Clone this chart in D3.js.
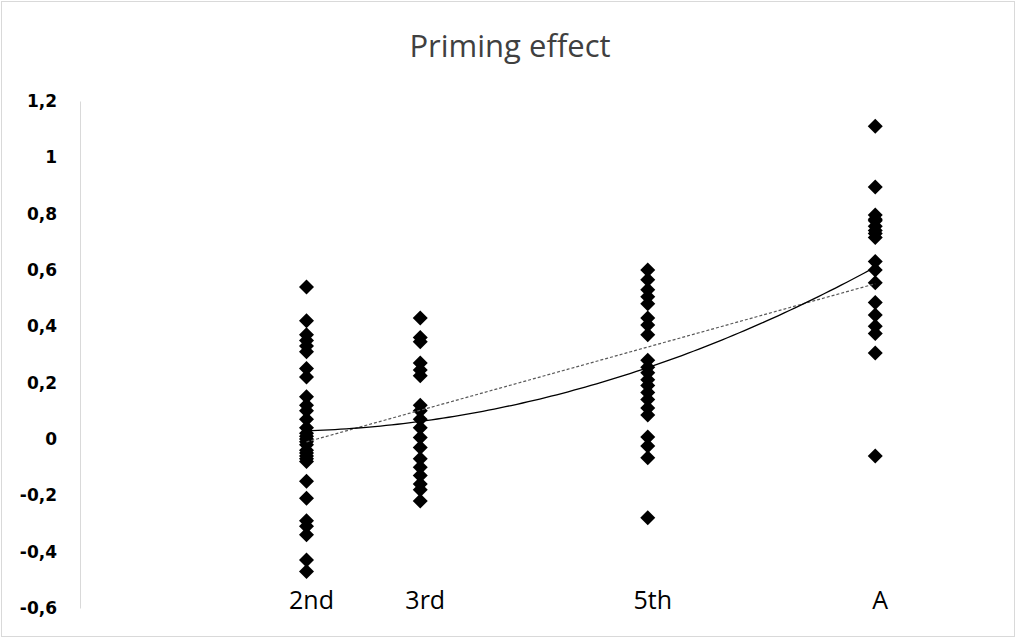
<!DOCTYPE html>
<html>
<head>
<meta charset="utf-8">
<script src="https://cdnjs.cloudflare.com/ajax/libs/d3/7.8.5/d3.min.js"></script>
<style>
  body { margin: 0; background: #fff; }
  svg { display: block; }
</style>
</head>
<body>
<div id="chart"></div>
<script>
// grades and where they sit on the numeric x axis
var grades = ["2nd", "3rd", "5th", "A"];
var gradeX = [2, 3, 5, 7];

// priming effect per participant
var vals2nd = [0.54, 0.42, 0.37, 0.35, 0.33, 0.31, 0.25, 0.22, 0.15, 0.12, 0.10, 0.07,
               0.04, 0.02, 0.01, 0.00, -0.01, -0.02, -0.04, -0.05, -0.06, -0.07, -0.08,
               -0.15, -0.21, -0.29, -0.31, -0.34, -0.43, -0.47];
var vals3rd = [0.43, 0.36, 0.345, 0.27, 0.245, 0.225, 0.12, 0.10, 0.07, 0.04, 0.005,
               -0.03, -0.07, -0.10, -0.13, -0.16, -0.18, -0.22];
var vals5th = [0.60, 0.565, 0.53, 0.505, 0.48, 0.43, 0.405, 0.37, 0.28, 0.255, 0.235,
               0.21, 0.19, 0.165, 0.14, 0.11, 0.085, 0.007, -0.025, -0.067, -0.28];
var valsA   = [1.11, 0.895, 0.795, 0.78, 0.775, 0.755, 0.74, 0.73, 0.715, 0.63, 0.60,
               0.555, 0.485, 0.44, 0.40, 0.375, 0.305, -0.06];

var yTicks = [-0.6, -0.4, -0.2, 0, 0.2, 0.4, 0.6, 0.8, 1, 1.2];

var width = 1017, height = 640;

var svg = d3.select("#chart").append("svg")
    .attr("width", width)
    .attr("height", height);

// chart frame
svg.append("rect")
    .attr("x", 1.5).attr("y", 1.5)
    .attr("width", width - 4).attr("height", height - 5)
    .attr("fill", "#fff")
    .attr("stroke", "#d9d9d9");

var x = d3.scaleLinear().domain([0, 8]).range([79, 989]);
var y = d3.scaleLinear().domain([-0.6, 1.2]).range([608, 101]);

svg.append("text")
    .attr("x", 510).attr("y", 57)
    .attr("text-anchor", "middle")
    .style("font-family", "'Open Sans', sans-serif")
    .style("font-size", "31px")
    .style("fill", "#404040")
    .text("Priming effect");

// y axis: line only, bold labels with comma decimals and plain hyphen
var fmt = function(d) { return String(+d.toFixed(1)).replace(".", ","); };
var yAxis = svg.append("g")
    .attr("transform", "translate(80,0)")
    .call(d3.axisLeft(y).tickValues(yTicks).tickSize(0).tickPadding(23).tickFormat(fmt));
yAxis.select(".domain").attr("stroke", "#d9d9d9");
yAxis.selectAll("text")
    .style("font-family", "'DejaVu Sans', sans-serif")
    .style("font-weight", "bold")
    .style("font-size", "17px")
    .attr("fill", "#000");

// flatten the points
var points = [];
[vals2nd, vals3rd, vals5th, valsA].forEach(function(vals, i) {
    vals.forEach(function(v) { points.push({x: gradeX[i], y: v}); });
});

// least squares fits (linear and 2nd order polynomial), as excel trendlines
function linFit(pts) {
    var n = pts.length, sx = 0, sy = 0, sxx = 0, sxy = 0;
    pts.forEach(function(p) { sx += p.x; sy += p.y; sxx += p.x * p.x; sxy += p.x * p.y; });
    var b = (n * sxy - sx * sy) / (n * sxx - sx * sx);
    var a = (sy - b * sx) / n;
    return function(t) { return a + b * t; };
}
function polyFit(pts) {
    var S = [0, 0, 0, 0, 0], T = [0, 0, 0];
    pts.forEach(function(p) {
        for (var k = 0; k < 5; k++) S[k] += Math.pow(p.x, k);
        for (var k2 = 0; k2 < 3; k2++) T[k2] += p.y * Math.pow(p.x, k2);
    });
    var M = [[S[0], S[1], S[2], T[0]], [S[1], S[2], S[3], T[1]], [S[2], S[3], S[4], T[2]]];
    for (var i = 0; i < 3; i++) {
        for (var j = i + 1; j < 3; j++) {
            var f = M[j][i] / M[i][i];
            for (var k3 = i; k3 < 4; k3++) M[j][k3] -= f * M[i][k3];
        }
    }
    var c = [0, 0, 0];
    for (var r = 2; r >= 0; r--) {
        var s = M[r][3];
        for (var q = r + 1; q < 3; q++) s -= M[r][q] * c[q];
        c[r] = s / M[r][r];
    }
    return function(t) { return c[0] + c[1] * t + c[2] * t * t; };
}

var lin = linFit(points), quad = polyFit(points);
var xs = d3.range(2, 7.001, 0.05);
var line = d3.line().x(function(d) { return x(d[0]); }).y(function(d) { return y(d[1]); });

// markers
var diamond = function(r) { return "M0," + (-r) + "L" + r + ",0L0," + r + "L" + (-r) + ",0Z"; };
svg.append("g").selectAll("path")
    .data(points)
    .enter().append("path")
    .attr("d", diamond(7.5))
    .attr("transform", function(d) { return "translate(" + x(d.x) + "," + y(d.y) + ")"; })
    .attr("fill", "#000");

svg.append("path")
    .attr("d", line(xs.map(function(t) { return [t, lin(t)]; })))
    .attr("fill", "none")
    .attr("stroke", "#595959")
    .attr("stroke-width", 1.2)
    .attr("stroke-dasharray", "3,2");

svg.append("path")
    .attr("d", line(xs.map(function(t) { return [t, quad(t)]; })))
    .attr("fill", "none")
    .attr("stroke", "#000")
    .attr("stroke-width", 1.3);

// category labels along the bottom
svg.append("g").selectAll("text")
    .data(grades)
    .enter().append("text")
    .attr("x", function(d, i) { return x(gradeX[i]) + 5; })
    .attr("y", 609)
    .attr("text-anchor", "middle")
    .style("font-family", "'Open Sans', sans-serif")
    .style("font-size", "25px")
    .style("fill", "#000")
    .text(function(d) { return d; });
</script>
</body>
</html>
